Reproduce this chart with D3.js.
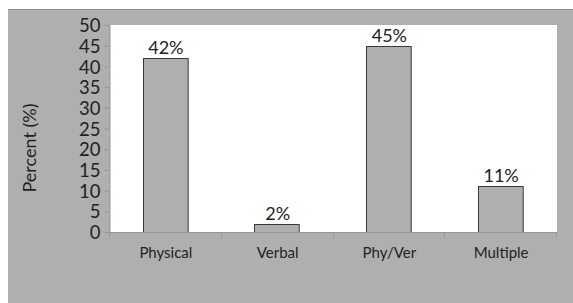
<!DOCTYPE html>
<html>
<head>
<meta charset="utf-8">
<script src="https://cdn.jsdelivr.net/npm/d3@7"></script>
<style>
  body { margin: 0; background: #fff; }
  svg { display: block; font-family: Lato, "Open Sans", sans-serif; }
</style>
</head>
<body>
<script>
// data
var categories = ["Physical", "Verbal", "Phy/Ver", "Multiple"];
var percents = [42, 2, 45, 11];
var pctLabels = ["42%", "2%", "45%", "11%"];
var yTicks = [0, 5, 10, 15, 20, 25, 30, 35, 40, 45, 50];

var W = 573, H = 303;
var plot = { left: 110, right: 557, top: 25, bottom: 232 };

var svg = d3.select("body").append("svg")
  .attr("width", W)
  .attr("height", H);

// gray panel
svg.append("rect")
  .attr("x", 8).attr("y", 10)
  .attr("width", W - 8).attr("height", H - 10)
  .attr("fill", "#afafaf");
svg.append("line")
  .attr("x1", 8).attr("x2", W)
  .attr("y1", 9.5).attr("y2", 9.5)
  .attr("stroke", "#8e8e8e");

// white plot area
svg.append("rect")
  .attr("x", plot.left).attr("y", plot.top)
  .attr("width", plot.right - plot.left)
  .attr("height", plot.bottom - plot.top)
  .attr("fill", "#fff");

var x = d3.scaleBand()
  .domain(categories)
  .range([plot.left, plot.right])
  .paddingInner(0.6)
  .paddingOuter(0.3);

var y = d3.scaleLinear()
  .domain([0, 50])
  .range([plot.bottom, plot.top]);

// bars
svg.selectAll("rect.bar")
  .data(percents)
  .enter()
  .append("rect")
  .attr("class", "bar")
  .attr("x", function(d, i) { return Math.round(x(categories[i])) - 0.5; })
  .attr("y", function(d) { return Math.round(y(d)) + 0.5; })
  .attr("width", x.bandwidth())
  .attr("height", function(d) { return Math.round(y(0)) - Math.round(y(d)); })
  .attr("fill", "#afafaf")
  .attr("stroke", "#3a3a3a")
  .attr("stroke-width", 1);

// data labels
svg.selectAll("text.lbl")
  .data(percents)
  .enter()
  .append("text")
  .attr("class", "lbl")
  .attr("x", function(d, i) { return x(categories[i]) + x.bandwidth() / 2; })
  .attr("y", function(d) { return y(d) - 4; })
  .attr("text-anchor", "middle")
  .attr("font-size", 18)
  .attr("fill", "#222")
  .text(function(d, i) { return pctLabels[i]; });

// y axis
var yAxis = svg.append("g")
  .attr("transform", "translate(" + (plot.left - 0.5) + ",0)")
  .call(d3.axisLeft(y).tickValues(yTicks).tickSize(5).tickPadding(4));
yAxis.select(".domain").attr("stroke", "#979797");
yAxis.selectAll(".tick line").attr("stroke", "#979797");
yAxis.selectAll(".tick text")
  .attr("font-size", 18.5)
  .attr("font-family", "Lato, sans-serif")
  .attr("fill", "#222")
  .attr("dy", "0.36em");

// x axis: ticks on category boundaries
var bounds = categories.map(function(c, i) { return plot.left + i * (plot.right - plot.left) / categories.length; })
  .concat([plot.right]);
var xg = svg.append("g");
xg.append("line")
  .attr("x1", plot.left - 5).attr("x2", plot.right)
  .attr("y1", plot.bottom + 0.5).attr("y2", plot.bottom + 0.5)
  .attr("stroke", "#979797");
xg.selectAll("line.xt")
  .data(bounds)
  .enter()
  .append("line")
  .attr("class", "xt")
  .attr("x1", function(d) { return Math.round(d) - 0.5; })
  .attr("x2", function(d) { return Math.round(d) - 0.5; })
  .attr("y1", plot.bottom)
  .attr("y2", plot.bottom + 5)
  .attr("stroke", "#979797");
xg.selectAll("text")
  .data(categories)
  .enter()
  .append("text")
  .attr("x", function(d) { return x(d) + x.bandwidth() / 2; })
  .attr("y", 258)
  .attr("text-anchor", "middle")
  .attr("font-size", 15)
  .attr("fill", "#222")
  .text(function(d) { return d; });

// y title
svg.append("text")
  .attr("transform", "translate(36,148) rotate(-90)")
  .attr("text-anchor", "middle")
  .attr("font-size", 18)
  .attr("fill", "#222")
  .text("Percent (%)");
</script>
</body>
</html>
